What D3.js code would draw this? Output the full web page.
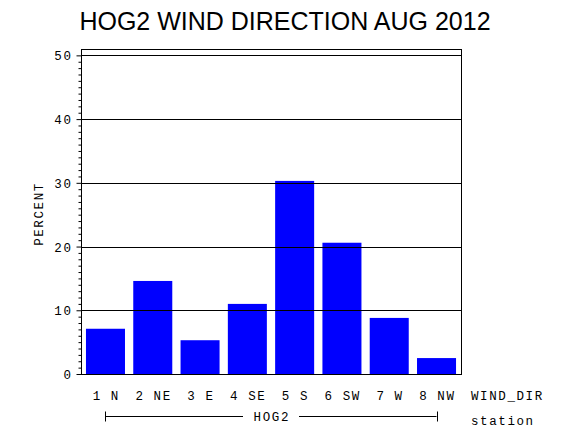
<!DOCTYPE html>
<html>
<head>
<meta charset="utf-8">
<script src="https://cdn.jsdelivr.net/npm/d3@7"></script>
<style>
  body { margin: 0; background: #fff; }
  svg { display: block; }
  .lbl { font-family: "Liberation Mono", monospace; font-size: 12.5px; letter-spacing: 1.6px; fill: #000; }
</style>
</head>
<body>
<svg id="chart" width="570" height="430"></svg>
<script>
const title = "HOG2 WIND DIRECTION AUG 2012";
const categories = ["1 N", "2 NE", "3 E", "4 SE", "5 S", "6 SW", "7 W", "8 NW"];
const percents = [7.1, 14.6, 5.3, 11.0, 30.3, 20.6, 8.8, 2.5];
const yTicks = [0, 10, 20, 30, 40, 50];
const yLabel = "PERCENT";
const xLabel = "WIND_DIR";
const groupName = "HOG2";
const groupLabel = "station";

const svg = d3.select("#chart");
const L = 81, R = 461, T = 49, B = 374;

const x = d3.scaleBand().domain(categories).range([L, R]).paddingInner(0.175).paddingOuter(0.105);
const y = d3.scaleLinear().domain([0, 51]).range([B, T]);

// title
svg.append("text").attr("x", 285).attr("y", 30).attr("text-anchor", "middle")
  .style("font-family", "Liberation Sans, Arial, sans-serif").style("font-size", "25px")
  .text(title);

// bars
svg.append("g").selectAll("rect").data(percents).join("rect")
  .attr("x", (d, i) => x(categories[i]))
  .attr("width", x.bandwidth())
  .attr("y", d => y(d))
  .attr("height", d => y(0) - y(d))
  .attr("fill", "#0000ff");

// grid lines
svg.append("g").selectAll("line").data(yTicks.filter(t => t > 0)).join("line")
  .attr("x1", L).attr("x2", R)
  .attr("y1", d => Math.round(y(d)) + 0.5).attr("y2", d => Math.round(y(d)) + 0.5)
  .attr("stroke", "#000").attr("stroke-width", 1);

// frame
svg.append("rect").attr("x", L + 0.5).attr("y", T + 0.5).attr("width", R - L).attr("height", B - T)
  .attr("fill", "none").attr("stroke", "#000").attr("stroke-width", 1);

// y axis (major + minor ticks)
const yAxisG = svg.append("g").attr("transform", `translate(${L + 0.5},0)`);
const minor = d3.range(0, 51, 1).filter(v => v % 10 !== 0);
yAxisG.call(d3.axisLeft(y).tickValues(minor).tickSize(3).tickFormat(""))
  .call(g => g.select(".domain").remove())
  .call(g => g.selectAll("line").attr("stroke", "#000"));
const yMajorG = svg.append("g").attr("transform", `translate(${L + 0.5},0)`);
yMajorG.call(d3.axisLeft(y).tickValues(yTicks).tickSize(5).tickPadding(4).tickFormat(d3.format("d")))
  .call(g => g.select(".domain").remove())
  .call(g => g.selectAll("line").attr("stroke", "#000"))
  .call(g => g.selectAll("text").attr("class", "lbl").attr("dy", "0.36em"));
yMajorG.attr("font-family", null).attr("font-size", null);

// y label
svg.append("text").attr("class", "lbl").attr("transform", "translate(43,214) rotate(-90)")
  .attr("text-anchor", "middle").text(yLabel);

// x labels
const xAxisG = svg.append("g").attr("transform", `translate(0,${B})`);
xAxisG.call(d3.axisBottom(x).tickSize(0).tickPadding(26))
  .call(g => g.select(".domain").remove())
  .call(g => g.selectAll("text").attr("class", "lbl").attr("dx", "0.8px").attr("dy", 0));
xAxisG.attr("font-family", null).attr("font-size", null);

svg.append("text").attr("class", "lbl").attr("x", 471).attr("y", 400).text(xLabel);
svg.append("text").attr("class", "lbl").attr("x", 471).attr("y", 424.5).text(groupLabel);

// group bracket
const gx1 = x(categories[0]) + x.bandwidth() / 2, gx2 = x(categories[categories.length - 1]) + x.bandwidth() / 2;
const gy = 416.5, gmid = (gx1 + gx2) / 2;
const br = svg.append("g").attr("stroke", "#000").attr("stroke-width", 1);
br.append("line").attr("x1", gx1).attr("x2", gmid - 28).attr("y1", gy).attr("y2", gy);
br.append("line").attr("x1", gmid + 28).attr("x2", gx2).attr("y1", gy).attr("y2", gy);
br.append("line").attr("x1", Math.round(gx1) + 0.5).attr("x2", Math.round(gx1) + 0.5).attr("y1", gy - 5).attr("y2", gy + 5);
br.append("line").attr("x1", Math.round(gx2) + 0.5).attr("x2", Math.round(gx2) + 0.5).attr("y1", gy - 5).attr("y2", gy + 5);
svg.append("text").attr("class", "lbl").attr("x", gmid + 0.8).attr("y", 421).attr("text-anchor", "middle").text(groupName);
</script>
</body>
</html>
